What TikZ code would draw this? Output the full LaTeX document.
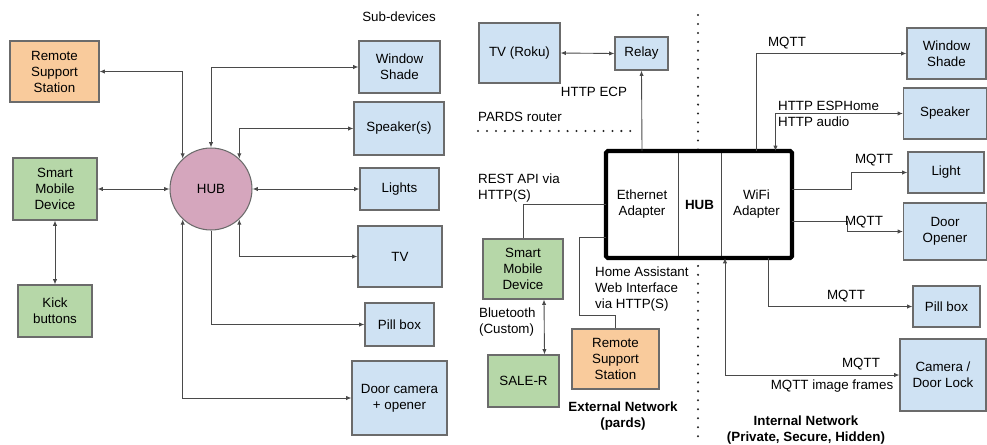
\documentclass[tikz,border=0pt]{standalone}
\usepackage{fontspec}
\setmainfont{Liberation Sans}
\usepackage{tikz}
\usetikzlibrary{arrows.meta, positioning}
\definecolor{deviceblue}{HTML}{CFE2F3}
\definecolor{phonegreen}{HTML}{B6D7A8}
\definecolor{supportorange}{HTML}{F9CB9C}
\definecolor{hubpink}{HTML}{D5A6BD}
\definecolor{edgegray}{HTML}{6B6B6B}
\definecolor{wiregray}{HTML}{4A4A4A}

\begin{document}
\begin{tikzpicture}[
  x=0.02cm, y=-0.02cm,
  >={Latex[length=3pt,width=2.4pt]},
  every node/.style={font=\fontsize{7.6}{9.1}\selectfont, align=center, inner sep=1pt},
  box/.style={rectangle, draw=edgegray, line width=0.6pt},
  device/.style={box, fill=deviceblue},
  phone/.style={box, fill=phonegreen},
  support/.style={box, fill=supportorange},
  adapter/.style={rectangle, draw=wiregray, line width=0.5pt, fill=white, minimum height=2.14cm, outer sep=0pt},
  link/.style={draw=wiregray, line width=0.5pt},
  note/.style={align=left, anchor=west},
  sepline/.style={draw=black!85, line width=1.3pt, dash pattern=on 0pt off 5.1pt, line cap=round}
]
  \useasboundingbox (0,0) rectangle (987,444);

  \draw[sepline] (478,131) -- (635,131);
  \draw[sepline] (698,15) -- (698,444);

  \node[support, minimum width=1.78cm, minimum height=1.22cm] (rss1) at (54.5,71.5) {Remote\\Support\\Station};
  \node[phone, minimum width=1.68cm, minimum height=1.24cm] (smd1) at (55,189) {Smart\\Mobile\\Device};
  \node[phone, minimum width=1.48cm, minimum height=1.04cm] (kick1) at (55,311) {Kick\\buttons};
  \node[circle, draw=edgegray, line width=0.6pt, fill=hubpink, minimum size=1.64cm, inner sep=0pt] (hub1) at (211,189) {HUB};
  \node (subdev) at (399,17) {Sub-devices};
  \node[device, minimum width=1.62cm, minimum height=1.04cm] (ws1) at (399.5,67) {Window\\Shade};
  \node[device, minimum width=1.80cm, minimum height=1.06cm] (spk1) at (399,128.5) {Speaker(s)};
  \node[device, minimum width=1.58cm, minimum height=0.84cm] (lights1) at (399.5,189) {Lights};
  \node[device, minimum width=1.68cm, minimum height=1.22cm] (tv1) at (400,256.5) {TV};
  \node[device, minimum width=1.38cm, minimum height=0.86cm] (pill1) at (399.5,324.5) {Pill box};
  \node[device, minimum width=1.90cm, minimum height=1.48cm] (cam1) at (399.5,398) {Door camera\\+ opener};

  \draw[link, <->] (rss1.east) -| (hub1.133);
  \draw[link, <->] (hub1.north) |- (ws1.west);
  \draw[link, <->] (hub1.47) |- (spk1.west);
  \draw[link, <->] (hub1.east) -- (lights1.west);
  \draw[link, <->] (hub1.-47) |- (tv1.west);
  \draw[link, ->] (hub1.south) |- (pill1.west);
  \draw[link, <->] (hub1.-133) |- (cam1.west);
  \draw[link, <->] (smd1.east) -- (hub1.west);
  \draw[link, <->] (smd1.south) -- (kick1.north);

  \node[device, minimum width=1.62cm, minimum height=1.20cm] (tvroku) at (519.5,53) {TV (Roku)};
  \node[device, minimum width=1.06cm, minimum height=0.66cm] (relay) at (641.5,53.5) {Relay};
  \node[adapter, minimum width=1.44cm] (eth) at (642,204.5) {Ethernet\\Adapter};
  \node[adapter, minimum width=0.86cm, right=0pt of eth, font=\fontsize{7.6}{9.1}\selectfont\bfseries] (hub2) {HUB};
  \node[adapter, minimum width=1.42cm, right=0pt of hub2] (wifi) {WiFi\\Adapter};
  \draw[line width=2.3pt, rounded corners=1pt] (eth.north west) rectangle (wifi.south east);
  \node[phone, minimum width=1.60cm, minimum height=1.20cm] (smd2) at (523,269) {Smart\\Mobile\\Device};
  \node[support, minimum width=1.74cm, minimum height=1.20cm] (rss2) at (615.5,359) {Remote\\Support\\Station};
  \node[phone, minimum width=1.42cm, minimum height=1.04cm] (saler) at (523.5,381) {SALE-R};

  \node (httpecp) at (594,92) {HTTP ECP};
  \node[note] (pardsrouter) at (476,117) {PARDS router};
  \node[note] (restapi) at (476,188) {REST API via\\HTTP(S)};
  \node[note] (homeassist) at (593,289.5) {Home Assistant\\Web Interface\\via HTTP(S)};
  \node[note] (bluetooth) at (477,322.5) {Bluetooth\\(Custom)};
  \node[font=\fontsize{7.6}{9.1}\selectfont\bfseries] (extnet) at (623,416.5) {External Network\\(pards)};

  \draw[link, <->] (tvroku.east) -- (relay.west);
  \draw[link, ->] (eth.north) -- (relay.south);
  \draw[link] (eth.west) -| (smd2.north);
  \draw[link] ([yshift=0.42cm]eth.south west) -| (579,315) -| (rss2.north);
  \draw[link, <->] ([xshift=0.42cm]smd2.south) -- ([xshift=0.42cm]saler.north);

  \node[device, minimum width=1.58cm, minimum height=1.02cm] (ws2) at (946.5,53.5) {Window\\Shade};
  \node[device, minimum width=1.66cm, minimum height=1.02cm] (spk2) at (945,113.5) {Speaker};
  \node[device, minimum width=1.52cm, minimum height=0.82cm] (light2) at (946,172.5) {Light};
  \node[device, minimum width=1.66cm, minimum height=1.14cm] (door2) at (945,231.5) {Door\\Opener};
  \node[device, minimum width=1.34cm, minimum height=0.82cm] (pill2) at (946.5,306.5) {Pill box};
  \node[device, minimum width=1.72cm, minimum height=1.44cm] (cam2) at (943,375) {Camera /\\Door Lock};

  \draw[link, ->] (wifi.north) |- (ws2.west);
  \draw[link, <->] ([xshift=0.38cm]wifi.north) |- (spk2.west);
  \draw[link, ->] ([yshift=0.31cm]wifi.east) -- ++(59,0) |- (light2.west);
  \draw[link, ->] ([yshift=-0.33cm]wifi.east) -- ++(55,0) |- (door2.west);
  \draw[link, ->] ([xshift=0.23cm]wifi.south) |- (pill2.west);
  \draw[link, <->] ([xshift=-0.63cm]wifi.south) |- (cam2.west);

  \node (mqttws) at (787,43) {MQTT};
  \node[note] (espuplabel) at (776,106) {HTTP ESPHome};
  \node[note] (audiolabel) at (776,122) {HTTP audio};
  \node (mqttlight) at (874,160) {MQTT};
  \node (mqttdoor) at (864,222) {MQTT};
  \node (mqttpill) at (846,296) {MQTT};
  \node (mqttcam) at (861,364) {MQTT};
  \node (framescam) at (832,386.5) {MQTT image frames};
  \node[font=\fontsize{7.6}{9.1}\selectfont\bfseries] (intnet) at (806,430) {Internal Network\\(Private, Secure, Hidden)};
\end{tikzpicture}
\end{document}
